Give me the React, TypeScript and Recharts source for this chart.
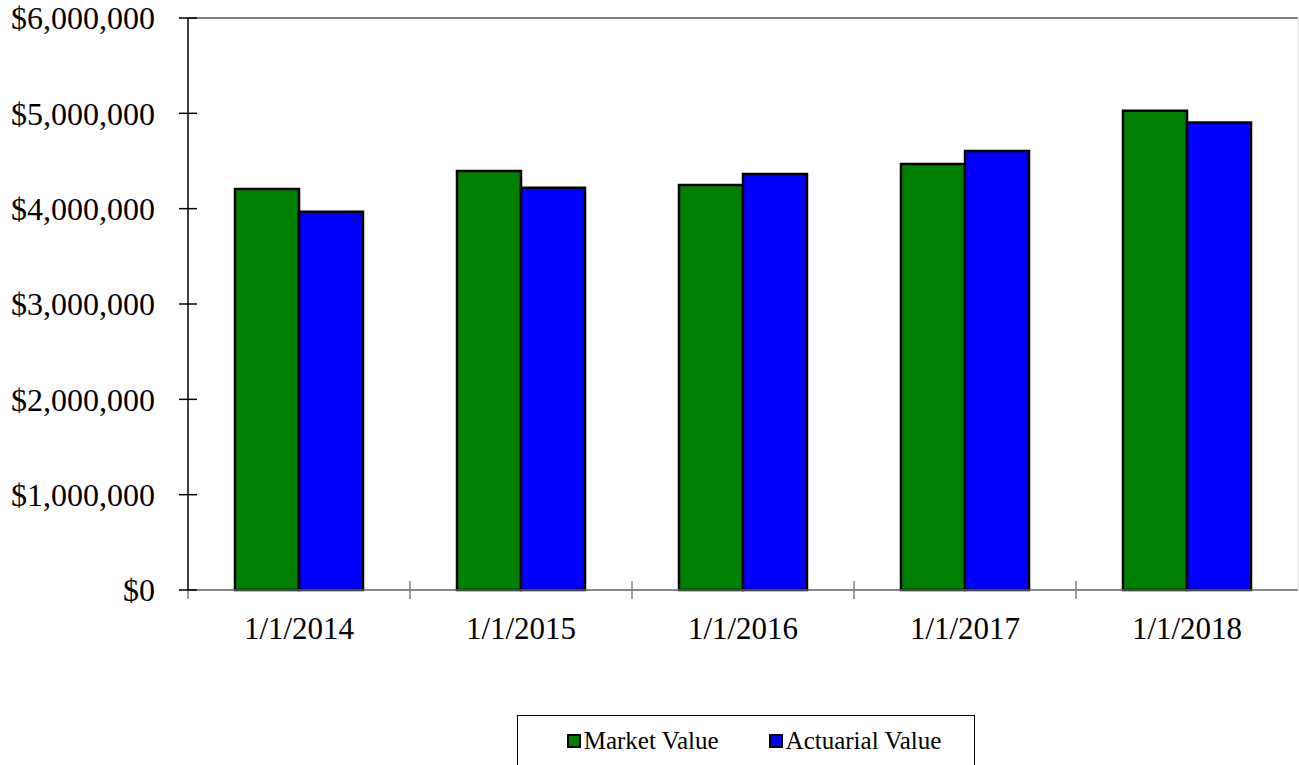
import React from 'react';
import { BarChart, Bar, XAxis, YAxis, ReferenceLine, Legend } from 'recharts';

const CATEGORIES = ['1/1/2014', '1/1/2015', '1/1/2016', '1/1/2017', '1/1/2018'];
const MARKET_VALUE = [4206000, 4395000, 4248000, 4469000, 5028000];
const ACTUARIAL_VALUE = [3968000, 4220000, 4364000, 4605000, 4903000];
const Y_TICKS = [0, 1000000, 2000000, 3000000, 4000000, 5000000, 6000000];

const FONT = '"Liberation Serif", "Times New Roman", serif';
const GREEN = '#008000';
const BLUE = '#0000FF';

const W = 1299;
const H = 765;
const PLOT_LEFT = 188;
const PLOT_RIGHT = 1298;
const HALF_BAND = (PLOT_RIGHT - PLOT_LEFT) / CATEGORIES.length / 2;

const data = CATEGORIES.map((date, i) => ({
  date, market: MARKET_VALUE[i], actuarial: ACTUARIAL_VALUE[i],
}));

const money = (v: number) => '$' + v.toLocaleString('en-US');

function XTick({ x, y, payload }: any) {
  const left = x - HALF_BAND;
  return (
    <g>
      <line x1={left} x2={left} y1={payload.index === 0 ? y : y - 9} y2={y + 9} stroke="#808080" strokeWidth={1.5} />
      <text x={x} y={y + 27} dy="0.71em" textAnchor="middle" fontFamily={FONT} fontSize={31} fill="#000">
        {payload.value}
      </text>
    </g>
  );
}

function YTick({ x, y, payload }: any) {
  return (
    <g>
      <line x1={x - 9} x2={x + 9} y1={y} y2={y} stroke="#000" strokeWidth={1.5} />
      <text x={x - 33} y={y} dy="0.355em" textAnchor="end" fontFamily={FONT} fontSize={32} fill="#000">
        {money(payload.value)}
      </text>
    </g>
  );
}

function LegendBox() {
  const items = [
    { label: 'Market Value', color: GREEN },
    { label: 'Actuarial Value', color: BLUE },
  ];
  return (
    <div style={{
      width: 458, height: 60, border: '1.5px solid #000', boxSizing: 'border-box', background: '#fff',
      display: 'flex', alignItems: 'flex-start', justifyContent: 'center', paddingTop: 11, paddingLeft: 16, gap: 50,
      fontFamily: FONT, fontSize: 25, color: '#000',
    }}>
      {items.map((it) => (
        <span key={it.label} style={{ display: 'flex', alignItems: 'center' }}>
          <span style={{ width: 10, height: 10, background: it.color, border: '2px solid #000', marginRight: 3 }} />
          {it.label}
        </span>
      ))}
    </div>
  );
}

export default function App() {
  return (
    <div style={{ position: 'absolute', left: 0, top: 0, width: W, height: H, background: '#fff' }}>
      <BarChart
        width={W}
        height={H}
        data={data}
        margin={{ top: 18, right: 0, left: 0, bottom: 115 }}
        barCategoryGap={47}
        barGap={0}
      >
        <XAxis
          dataKey="date"
          height={60}
          tickSize={0}
          tickMargin={0}
          tickLine={false}
          axisLine={{ stroke: '#606060', strokeWidth: 1.5 }}
          tick={<XTick />}
          interval={0}
        />
        <YAxis
          yAxisId="left"
          width={PLOT_LEFT}
          domain={[0, 6000000]}
          ticks={Y_TICKS}
          interval={0}
          tickSize={0}
          tickMargin={0}
          tickLine={false}
          axisLine={{ stroke: '#000', strokeWidth: 1.5 }}
          tick={<YTick />}
        />
        <YAxis yAxisId="right" orientation="right" width={1} domain={[0, 6000000]} tick={false} tickLine={false} axisLine={{ stroke: '#d8d8d8' }} />
        <ReferenceLine yAxisId="left" y={6000000} stroke="#808080" strokeWidth={2} />
        <Bar yAxisId="left" dataKey="market" name="Market Value" fill={GREEN} stroke="#000" strokeWidth={2.5} isAnimationActive={false} />
        <Bar yAxisId="left" dataKey="actuarial" name="Actuarial Value" fill={BLUE} stroke="#000" strokeWidth={2.5} isAnimationActive={false} />
        <Legend
          layout="horizontal"
          verticalAlign="middle"
          align="center"
          content={<LegendBox />}
          wrapperStyle={{ position: 'absolute', left: 517, top: 715, width: 458, height: 60 }}
        />
      </BarChart>
    </div>
  );
}
